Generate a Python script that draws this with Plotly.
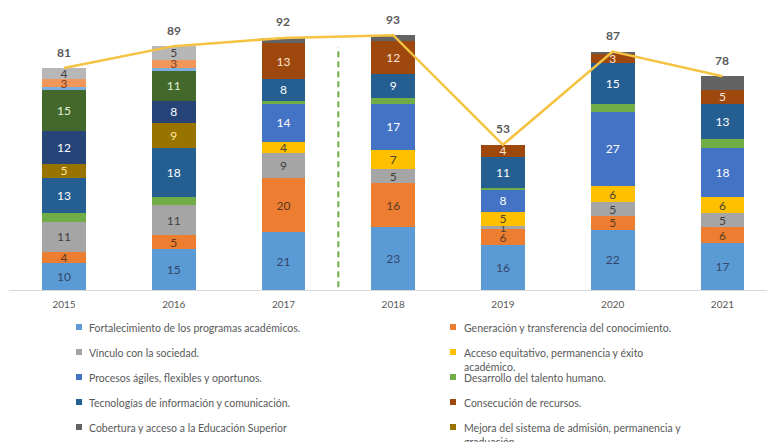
import plotly.graph_objects as go

years = ["2015", "2016", "2017", "2018", "2019", "2020", "2021"]

series_names = [
    "Fortalecimiento de los programas académicos.",
    "Generación y transferencia del conocimiento.",
    "Vínculo con la sociedad.",
    "Acceso equitativo, permanencia y éxito<br>académico.",
    "Procesos ágiles, flexibles y oportunos.",
    "Desarrollo del talento humano.",
    "Tecnologías de información y comunicación.",
    "Consecución de recursos.",
    "Cobertura y acceso a la Educación Superior",
    "Mejora del sistema de admisión, permanencia y<br>graduación.",
    "Otro objetivo 11",
    "Otro objetivo 12",
    "Otro objetivo 13",
    "Otro objetivo 14",
    "Otro objetivo 15",
]

fortalecimiento = [10, 15, 21, 23, 16.3, 22, 17]
generacion = [4, 5, 20, 16, 6, 5, 6]
vinculo = [11, 11, 9, 5, 1.2, 5, 5]
acceso = [None, None, 4, 7, 5, 6, 6]
procesos = [None, None, 14, 17, 8.3, 27, 18]
desarrollo = [3, 3, 1, 2, 0.4, 3, 3]
tecnologias = [13, 18, 8, 9, 11.4, 15, 13]
consecucion = [None, None, 13, 12, 4.4, 3, 5]
cobertura = [None, None, 2, 2, None, 1, 5]
mejora = [5, 9, None, None, None, None, None]
otro11 = [12, 8, None, None, None, None, None]
otro12 = [15, 11, None, None, None, None, None]
otro13 = [1, 1, None, None, None, None, None]
otro14 = [3, 3, None, None, None, None, None]
otro15 = [4, 5, None, None, None, None, None]

totals = [81, 89, 92, 93, 53, 87, 78]

series_values = [fortalecimiento, generacion, vinculo, acceso, procesos, desarrollo,
                 tecnologias, consecucion, cobertura, mejora, otro11, otro12,
                 otro13, otro14, otro15]

colors = ["#5B9BD5", "#ED7D31", "#A5A5A5", "#FFC000", "#4472C4", "#70AD47",
          "#255E91", "#9E480E", "#636363", "#997300", "#264478", "#43682B",
          "#7CAFDD", "#F1975A", "#B7B7B7"]
text_colors = ["#34466A", "#5C3B1E", "#3F3F3F", "#4A4330", "#FFFFFF", None,
               "#FFFFFF", "#FBE5D6", None, "#FFE699", "#FFFFFF", "#E2F0D9",
               None, "#7F4020", "#3F3F3F"]

FONT = "Lato"
GRAY = "#595959"

fig = go.Figure()
for name, vals, col, tcol in zip(series_names, series_values, colors, text_colors):
    if tcol is None:
        txt = None
    else:
        txt = [f"{v:.0f}" if v else "" for v in vals]
    fig.add_trace(go.Bar(
        x=years, y=vals, name=name.replace("<br>", " "),
        marker=dict(color=col, line=dict(width=0)),
        text=txt, textposition="inside" if txt else "none",
        insidetextanchor="middle", textangle=0, constraintext="none",
        textfont=dict(family=FONT, size=12, color=tcol if tcol else "#000"),
        showlegend=False, hoverinfo="skip",
    ))

fig.add_trace(go.Scatter(
    x=years, y=totals, mode="lines", name="Total",
    line=dict(color="#F5C242", width=2.5), showlegend=False, hoverinfo="skip",
))

# total labels above bars
for i, t in enumerate(totals):
    fig.add_annotation(x=i, y=t, xref="x", yref="y", text=f"<b>{t}</b>",
                       showarrow=False, yshift=16,
                       font=dict(family=FONT, size=12, color=GRAY))

# dashed separator between 2017 and 2018
fig.add_shape(type="line", xref="x", yref="y", x0=2.5, x1=2.5, y0=1, y1=88.7,
              line=dict(color="#70AD47", width=2, dash="6px,4px"))

# manual legend
L, R, T, B = 9, 0, 16, 152
W, H = 767, 442
pw, ph = W - L - R, H - T - B


def px_x(px):
    return (px - L) / pw


def px_y(py):
    return (H - B - py) / ph


row_y = [327, 352, 377, 402, 427]
col_marker = [79, 453]
col_text = [87, 462]
for i in range(10):
    r, c = i // 2, i % 2
    cy = row_y[r]
    fig.add_shape(type="rect", xref="paper", yref="paper",
                  x0=px_x(col_marker[c] - 3), x1=px_x(col_marker[c] + 3),
                  y0=px_y(cy + 3), y1=px_y(cy - 3),
                  fillcolor=colors[i], line=dict(width=0))
    fig.add_annotation(xref="paper", yref="paper", x=px_x(col_text[c]), y=px_y(cy - 7),
                       xanchor="left", yanchor="top", align="left", showarrow=False,
                       text=series_names[i],
                       font=dict(family=FONT, size=10.5, color=GRAY))

fig.update_layout(
    width=W, height=H, barmode="stack", bargap=0.6,
    margin=dict(l=L, r=R, t=T, b=B, pad=0),
    paper_bgcolor="white", plot_bgcolor="white",
    showlegend=False, hovermode=False,
    font=dict(family=FONT, color=GRAY),
    xaxis=dict(type="category", range=[-0.501, 6.406], showgrid=False,
               showline=True, linecolor="#D9D9D9", linewidth=1, ticks="",
               ticklabelstandoff=5,
               tickfont=dict(family=FONT, size=10, color=GRAY), fixedrange=True),
    yaxis=dict(range=[0, 100], visible=False, fixedrange=True),
)

fig.write_html("out.html", config={"displayModeBar": False})
